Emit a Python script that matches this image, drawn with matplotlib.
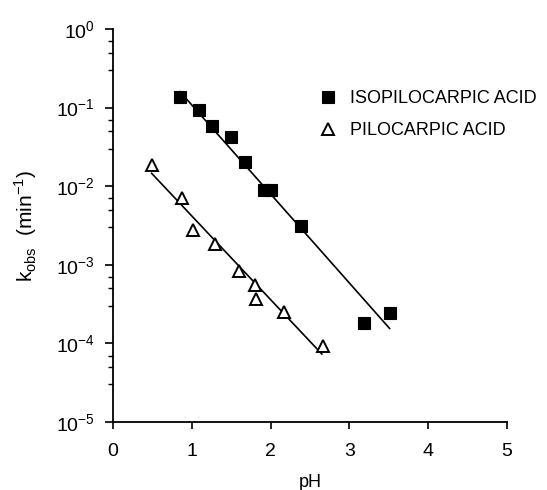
import numpy as np
import matplotlib
matplotlib.use("Agg")
import matplotlib.pyplot as plt
from matplotlib.ticker import LogLocator, NullFormatter

# pH vs k_obs (min^-1)
iso_ph = [0.85, 1.09, 1.25, 1.50, 1.67, 1.92, 2.01, 2.39, 3.19, 3.51]
iso_k = [0.135, 0.093, 0.059, 0.042, 0.0204, 0.0089, 0.0089, 0.0031, 1.8e-4, 2.46e-4]
pilo_ph = [0.49, 0.88, 1.01, 1.30, 1.60, 1.80, 1.82, 2.17, 2.67]
pilo_k = [0.0186, 0.00714, 0.00277, 0.00184, 8.4e-4, 5.5e-4, 3.67e-4, 2.49e-4, 9.3e-5]

# end points of the drawn regression lines
iso_fit_ph = [0.85, 3.51]
iso_fit_k = [10 ** -0.797, 10 ** -3.81]
pilo_fit_ph = [0.49, 2.65]
pilo_fit_k = [10 ** -1.836, 10 ** -4.135]

x_ticks = [0, 1, 2, 3, 4, 5]

plt.rcParams['font.family'] = ['Liberation Sans', 'DejaVu Sans']
plt.rcParams['font.size'] = 12

fig = plt.figure(figsize=(5.47, 4.9), dpi=100)
ax = fig.add_axes([0.2066, 0.1388, 0.7203, 0.802])

ax.plot(iso_fit_ph, iso_fit_k, color='black', lw=1.2)
ax.plot(pilo_fit_ph, pilo_fit_k, color='black', lw=1.2)
ax.plot(iso_ph, iso_k, 's', color='black', ms=9, mew=0.8, label='ISOPILOCARPIC ACID')
ax.plot(pilo_ph, pilo_k, '^', mfc='white', mec='black', ms=9, mew=1.4, label='PILOCARPIC ACID')

ax.set_yscale('log')
ax.set_xlim(0, 5)
ax.set_ylim(1e-5, 1)
ax.set_xticks(x_ticks)
ax.yaxis.set_major_locator(LogLocator(base=10, numticks=10))
ax.yaxis.set_minor_locator(LogLocator(base=10, subs=[3, 5, 7], numticks=10))
ax.yaxis.set_minor_formatter(NullFormatter())

for s in ['top', 'right']:
    ax.spines[s].set_visible(False)
for s in ['left', 'bottom']:
    ax.spines[s].set_linewidth(1.3)

ax.tick_params(axis='both', which='major', direction='out', length=6, width=1.2, labelsize=14)
ax.tick_params(axis='y', which='major', pad=7)
ax.tick_params(axis='y', which='minor', direction='out', length=3.5, width=1.0)
ax.tick_params(axis='x', which='major', length=5, pad=10)

ax.set_xlabel('pH', fontsize=13, labelpad=10)
ax.set_ylabel(r'k$_{\mathdefault{obs}}$  (min$^{\mathdefault{-1}}$)', fontsize=15, labelpad=12)

ax.legend(loc='upper left', bbox_to_anchor=(0.50, 0.862), frameon=False,
          handletextpad=0.6, labelspacing=0.8, fontsize=13, handlelength=1.2,
          borderaxespad=0)

fig.savefig('out.png', dpi=100)
